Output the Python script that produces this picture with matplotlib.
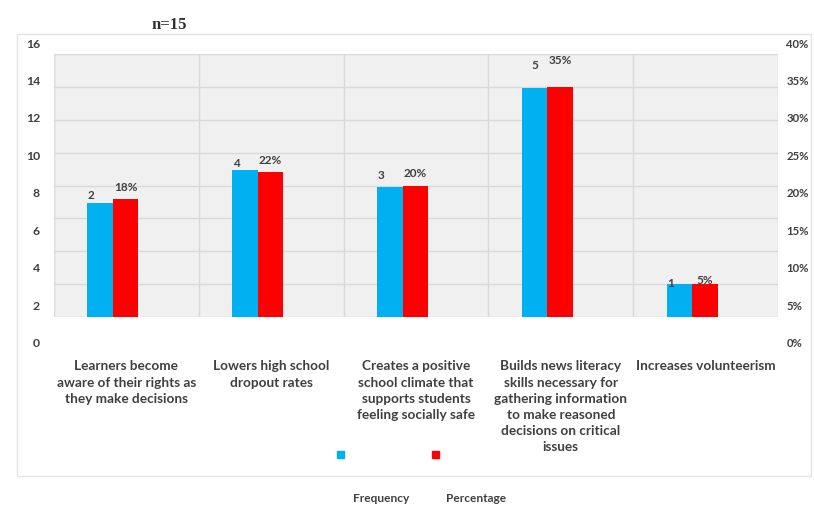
"""Frequency / percentage bar chart with n=15 header (Excel-style look)."""

import matplotlib as mpl
import matplotlib.pyplot as plt
from matplotlib.patches import Rectangle
from matplotlib.ticker import PercentFormatter

W, H = 814, 506

# data
categories = [
    "Learners become\naware of their rights as\nthey make decisions",
    "Lowers high school\ndropout rates",
    "Creates a positive\nschool climate that\nsupports students\nfeeling socially safe",
    "Builds news literacy\nskills necessary for\ngathering information\nto make reasoned\ndecisions on critical\nissues",
    "Increases volunteerism",
]
frequency = [2, 4, 3, 5, 1]
percentage = [18, 22, 20, 35, 5]
# the blue bars are drawn on the percentage scale in the source chart
frequency_bar_pct = [17.3, 22.4, 19.8, 34.8, 5.0]
n_total = 15

BLUE = "#00B0F0"
RED = "#FF0000"
INK = "#404040"
GRID = "#D9D9D9"
PANEL = "#F0F0F0"

mpl.rcParams.update({
    "font.family": ["Lato", "DejaVu Sans"],
    "font.weight": "bold",
    "font.size": 8.5,
    "text.color": INK,
})


def fx(px):
    return px / W


def fy(py):
    return 1 - py / H


def draw():
    fig = plt.figure(figsize=(W / 100, H / 100), dpi=100)

    # outer chart border
    fig.patches.append(Rectangle((fx(17), fy(477)), fx(811) - fx(17), fy(35) - fy(477),
                                 transform=fig.transFigure, fill=False,
                                 edgecolor="#E4E4E4", linewidth=1.0))

    ax = fig.add_axes([fx(54), fy(318), (778 - 54) / W, (318 - 55) / H])
    ax.set_facecolor(PANEL)
    for s in ax.spines.values():
        s.set_visible(False)
    x = list(range(len(categories)))
    ax.set_xlim(-0.5, len(categories) - 0.5)
    ax.set_ylim(0, 40)
    ax.set_yticks(range(0, 41, 5))
    ax.set_xticks([i - 0.5 for i in range(len(categories) + 1)], minor=True)
    ax.grid(True, axis="y", color=GRID, linewidth=1.0)
    ax.grid(True, axis="x", which="minor", color=GRID, linewidth=1.0)
    ax.tick_params(axis="y", left=False, labelleft=False)
    ax.tick_params(axis="x", which="both", bottom=False)
    ax.set_axisbelow(True)

    ax.set_xticks(x)
    ax.set_xticklabels(categories, fontsize=9.8, linespacing=1.42,
                       va="top", ha="center", color=INK)
    ax.tick_params(axis="x", pad=27)

    shift, bw = 0.093, 0.176
    xb = [i - shift - bw / 2 for i in x]
    xr = [i - shift + bw / 2 for i in x]
    ax.bar(xb, frequency_bar_pct, width=bw, color=BLUE, zorder=3)
    ax.bar(xr, percentage, width=bw, color=RED, zorder=3)

    freq_lift = [6, 5, 9, 17, 1.5]
    pct_lift = [9, 9, 9, 20, 3]
    for i in x:
        ax.annotate(str(frequency[i]), (xb[i], frequency_bar_pct[i]),
                    xytext=(-6.5 if i != 3 else 0, freq_lift[i]),
                    textcoords="offset points", ha="center", va="center",
                    fontsize=8.5, color=INK, zorder=4)
        ax.annotate(f"{percentage[i]}%", (xr[i], percentage[i]),
                    xytext=(0, pct_lift[i]), textcoords="offset points",
                    ha="center", va="center", fontsize=8.5, color=INK, zorder=4)

    # axis labels sit on a slightly taller frame than the panel, as in the source
    lab = fig.add_axes([fx(54), fy(343), (778 - 54) / W, (343 - 43) / H])
    lab.patch.set_visible(False)
    for s in lab.spines.values():
        s.set_visible(False)
    lab.set_xticks([])
    lab.set_ylim(0, 16)
    lab.set_yticks(range(0, 17, 2))
    lab.tick_params(axis="y", length=0, pad=10, labelsize=8.8, labelcolor=INK)
    rlab = lab.twinx()
    for s in rlab.spines.values():
        s.set_visible(False)
    rlab.set_ylim(0, 0.40)
    rlab.set_yticks([k / 100 for k in range(0, 41, 5)])
    rlab.yaxis.set_major_formatter(PercentFormatter(1.0, decimals=0))
    rlab.tick_params(axis="y", length=0, pad=6, labelsize=8.2, labelcolor=INK)

    fig.text(fx(169), fy(25), f"n={n_total}", family=["Liberation Serif", "DejaVu Serif"],
             fontsize=12, fontweight="bold", color="#303030", ha="center", va="center")

    # legend: swatches inside the border, names below it
    for px, col in ((340, BLUE), (435, RED)):
        fig.patches.append(Rectangle((fx(px - 3.5), fy(455 + 3.5)), 7 / W, 7 / H,
                                     transform=fig.transFigure, color=col))
    fig.text(fx(381), fy(499), "Frequency", ha="center", va="center", fontsize=8.6)
    fig.text(fx(476), fy(499), "Percentage", ha="center", va="center", fontsize=8.6)

    fig.savefig("out.png", dpi=100)
    plt.close(fig)


if __name__ == "__main__":
    draw()
